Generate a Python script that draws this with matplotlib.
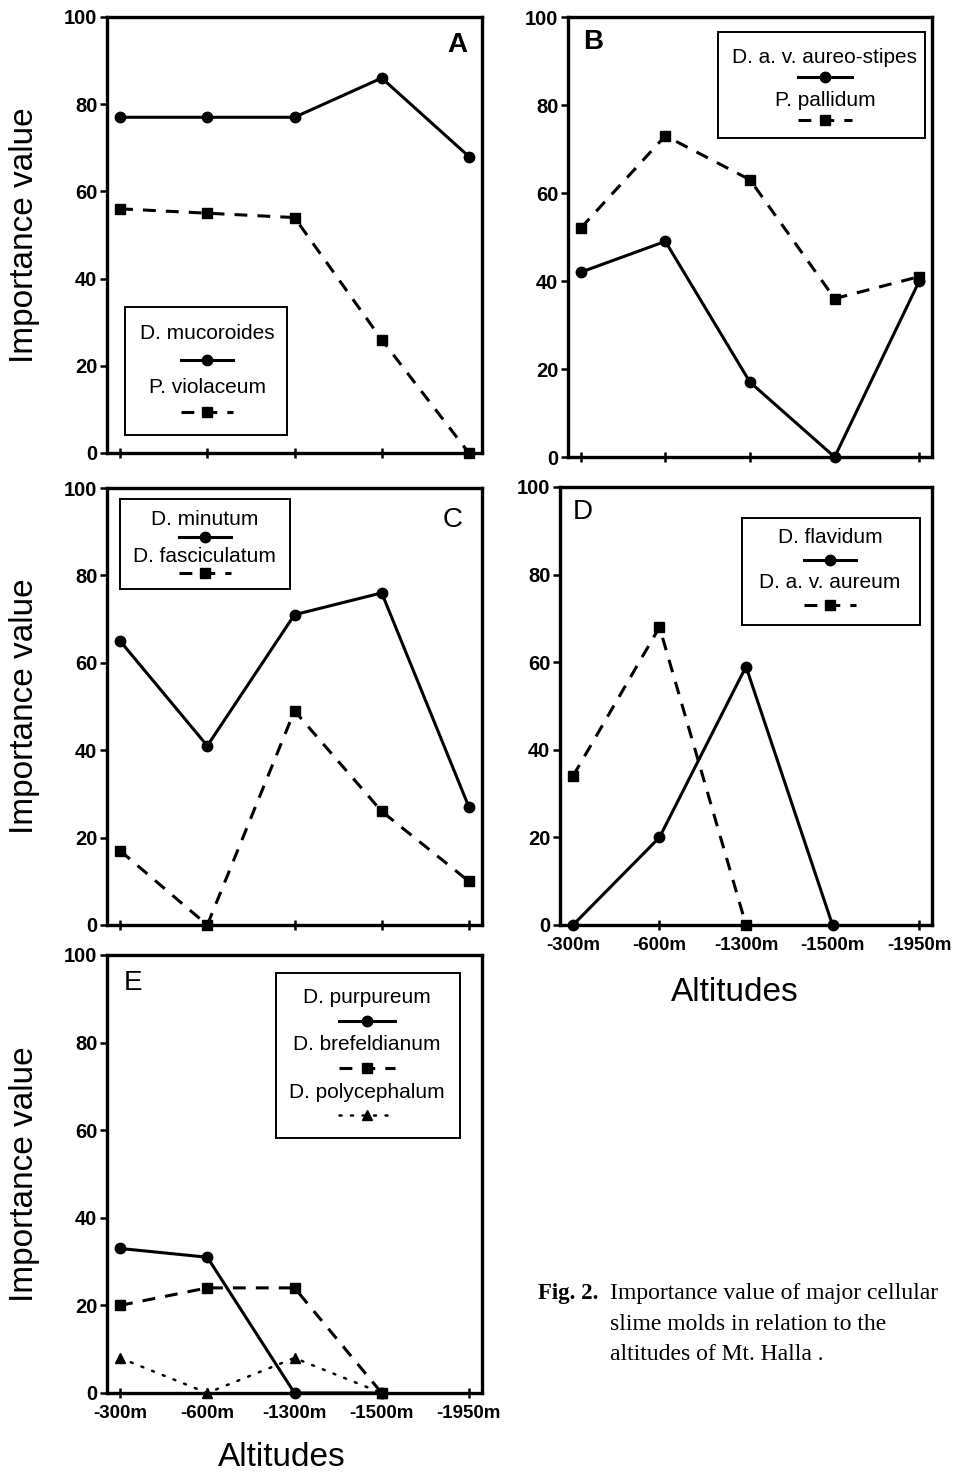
"""Importance value of major cellular slime molds vs. altitude on Mt. Halla (Fig. 2)."""

import matplotlib
matplotlib.use("Agg")
import matplotlib.pyplot as plt
import numpy as np
from matplotlib.patches import Rectangle

plt.rcParams["font.family"] = ["Liberation Sans", "DejaVu Sans"]

# ---- data -----------------------------------------------------------------
altitudes = ["-300m", "-600m", "-1300m", "-1500m", "-1950m"]

mucoroides = [77, 77, 77, 86, 68]
violaceum = [56, 55, 54, 26, 0]

aureo_stipes = [42, 49, 17, 0, 40]
pallidum = [52, 73, 63, 36, 41]

minutum = [65, 41, 71, 76, 27]
fasciculatum = [17, 0, 49, 26, 10]

flavidum = [0, 20, 59, 0, np.nan]
aureum = [34, 68, 0, np.nan, np.nan]

purpureum = [33, 31, 0, 0, np.nan]
brefeldianum = [20, 24, 24, 0, np.nan]
polycephalum = [8, 0, 8, 0, np.nan]

# ---- styles ---------------------------------------------------------------
W, H = 957, 1473
LW = 2.2
STYLES = {
    "solid": dict(color="black", lw=LW, ls="-", marker="o", ms=7.5),
    "dashed": dict(color="black", lw=LW, ls=(0, (4.2, 3.3)), marker="s", ms=7),
    "dotted": dict(color="black", lw=1.8, ls=(0, (0.8, 3.8)), marker="^", ms=7.5,
                   dash_capstyle="round"),
}


def px_axes(fig, left, top, right, bottom):
    """Add axes from pixel edges (origin top-left)."""
    return fig.add_axes([left / W, 1 - bottom / H, (right - left) / W, (bottom - top) / H])


def style_axes(ax, show_xlabels, show_ylabel):
    x = np.arange(len(altitudes))
    ax.set_xlim(-0.15, 4.15)
    ax.set_ylim(0, 100)
    ax.set_xticks(x)
    ax.set_yticks(range(0, 101, 20))
    for sp in ax.spines.values():
        sp.set_linewidth(2.4)
    ax.tick_params(axis="y", direction="out", length=5, width=1.8, pad=2,
                   labelsize=14.5)
    ax.tick_params(axis="x", direction="inout", length=7, width=1.8, pad=5,
                   labelsize=13.5)
    for lab in ax.get_yticklabels():
        lab.set_fontweight("bold")
    if show_xlabels:
        ax.set_xticklabels(altitudes, fontweight="bold")
    else:
        ax.set_xticklabels([])
    if show_ylabel:
        ax.set_ylabel("Importance value", fontsize=24)
        ax.yaxis.set_label_coords(-0.219, 0.5)
        ax.yaxis.label.set_va("center")


def draw_series(ax, values, kind):
    ax.plot(np.arange(len(values)), values, clip_on=False, zorder=3, **STYLES[kind])


def draw_legend(ax, box, xc, entries, half_w=0.07):
    """Text-above-sample legend box, as in the original figure."""
    x0, y0, x1, y1 = box
    ax.add_patch(Rectangle((x0, y0), x1 - x0, y1 - y0, transform=ax.transAxes,
                           fill=False, lw=1.4, ec="black", zorder=4))
    for label, kind, ty, hy in entries:
        ax.text(xc, ty, label, transform=ax.transAxes, ha="center", va="center",
                fontsize=15, zorder=5)
        ax.plot([xc - half_w, xc, xc + half_w], [hy] * 3, transform=ax.transAxes,
                markevery=[1], clip_on=False, zorder=5, **STYLES[kind])


fig = plt.figure(figsize=(W / 100, H / 100), dpi=100)

# ---- A --------------------------------------------------------------------
ax = px_axes(fig, 107, 17, 482, 453)
style_axes(ax, False, True)
draw_series(ax, mucoroides, "solid")
draw_series(ax, violaceum, "dashed")
draw_legend(ax, (0.048, 0.041, 0.48, 0.335), 0.267,
            [("D. mucoroides", "solid", 0.275, 0.213),
             ("P. violaceum", "dashed", 0.151, 0.094)])
ax.text(0.933, 0.936, "A", transform=ax.transAxes, ha="center", va="center",
        fontsize=20, fontweight="bold")

# ---- B --------------------------------------------------------------------
ax = px_axes(fig, 568, 17, 932, 457)
style_axes(ax, False, False)
draw_series(ax, aureo_stipes, "solid")
draw_series(ax, pallidum, "dashed")
draw_legend(ax, (0.412, 0.725, 0.981, 0.966), 0.706,
            [("D. a. v. aureo-stipes", "solid", 0.907, 0.864),
             ("P. pallidum", "dashed", 0.811, 0.766)], half_w=0.075)
ax.text(0.069, 0.943, "B", transform=ax.transAxes, ha="center", va="center",
        fontsize=20, fontweight="bold")

# ---- C --------------------------------------------------------------------
ax = px_axes(fig, 107, 488, 482, 925)
style_axes(ax, False, True)
draw_series(ax, minutum, "solid")
draw_series(ax, fasciculatum, "dashed")
draw_legend(ax, (0.035, 0.769, 0.488, 0.975), 0.261,
            [("D. minutum", "solid", 0.927, 0.888),
             ("D. fasciculatum", "dashed", 0.844, 0.805)])
ax.text(0.923, 0.927, "C", transform=ax.transAxes, ha="center", va="center",
        fontsize=20)

# ---- D --------------------------------------------------------------------
ax = px_axes(fig, 560, 487, 932, 925)
style_axes(ax, True, False)
draw_series(ax, flavidum, "solid")
draw_series(ax, aureum, "dashed")
draw_legend(ax, (0.49, 0.685, 0.968, 0.93), 0.726,
            [("D. flavidum", "solid", 0.884, 0.833),
             ("D. a. v. aureum", "dashed", 0.783, 0.731)])
ax.text(0.062, 0.943, "D", transform=ax.transAxes, ha="center", va="center",
        fontsize=20)
ax.set_xlabel("Altitudes", fontsize=24)
ax.xaxis.set_label_coords(0.47, -0.153)
ax.xaxis.label.set_va("center")

# ---- E --------------------------------------------------------------------
ax = px_axes(fig, 107, 955, 482, 1393)
style_axes(ax, True, True)
draw_series(ax, purpureum, "solid")
draw_series(ax, brefeldianum, "dashed")
draw_series(ax, polycephalum, "dotted")
draw_legend(ax, (0.45, 0.582, 0.94, 0.959), 0.693,
            [("D. purpureum", "solid", 0.902, 0.849),
             ("D. brefeldianum", "dashed", 0.795, 0.742),
             ("D. polycephalum", "dotted", 0.685, 0.635)], half_w=0.075)
ax.text(0.069, 0.936, "E", transform=ax.transAxes, ha="center", va="center",
        fontsize=20)
ax.set_xlabel("Altitudes", fontsize=24)
ax.xaxis.set_label_coords(0.467, -0.148)
ax.xaxis.label.set_va("center")

# ---- caption --------------------------------------------------------------
serif = ["Liberation Serif", "DejaVu Serif"]
fig.text(538 / W, 1 - 1293 / H, "Fig. 2.", family=serif, fontsize=16.5,
         fontweight="bold", va="center")
caption = ["Importance value of major cellular",
           "slime molds in relation to the",
           "altitudes of Mt. Halla ."]
for i, line in enumerate(caption):
    fig.text(610 / W, 1 - (1293 + 31 * i) / H, line, family=serif,
             fontsize=17, va="center")

fig.savefig("out.png", dpi=100, facecolor="white")
